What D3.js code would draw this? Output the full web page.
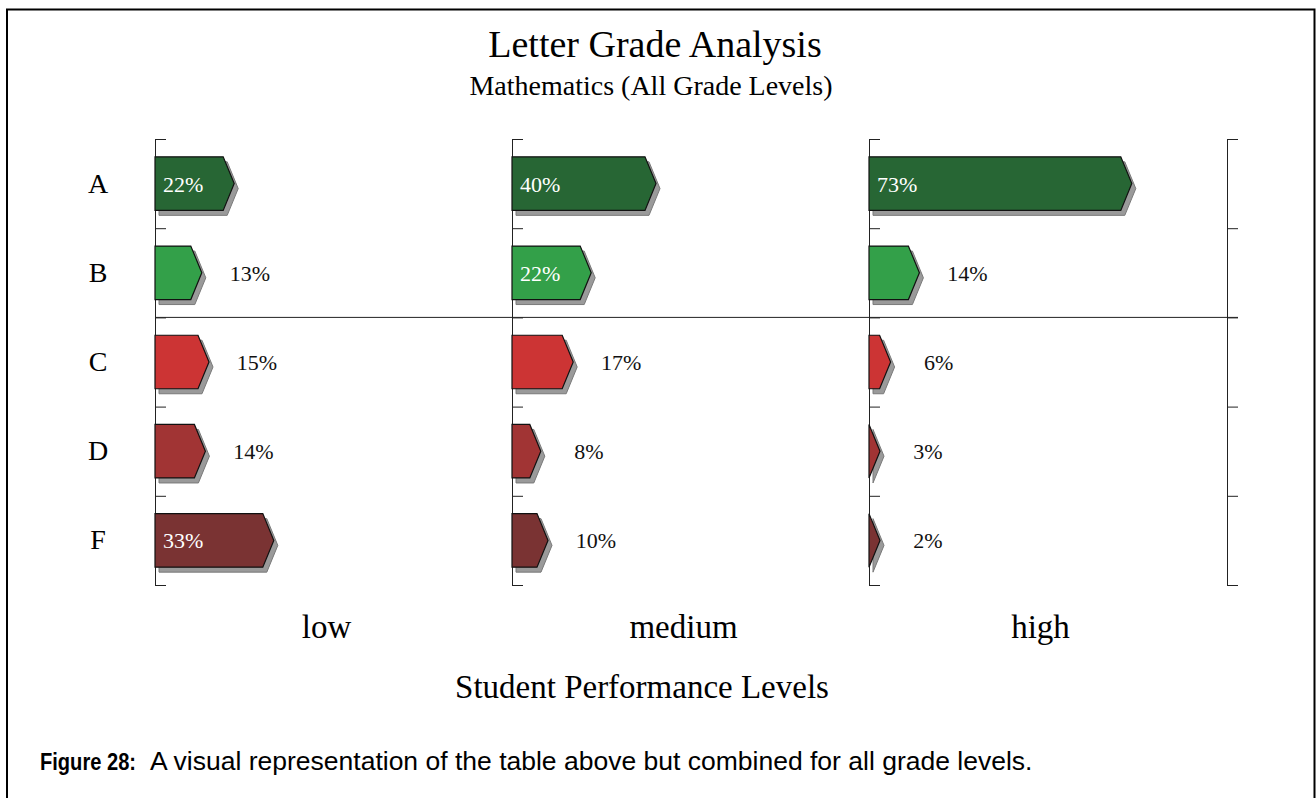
<!DOCTYPE html>
<html>
<head>
<meta charset="utf-8">
<script src="https://cdn.jsdelivr.net/npm/d3@7"></script>
<style>
  body { margin: 0; background: #fff; }
  text { font-family: "Liberation Serif", "Times New Roman", serif; }
  .caption { font-family: "Liberation Sans", Arial, sans-serif; }
</style>
</head>
<body>
<div class="canvas"></div>
<script>
// data
var levels = ["low", "medium", "high"];
var grades = ["A", "B", "C", "D", "F"];
var gradeColors = ["#276634", "#33a049", "#cc3434", "#a13434", "#7a3333"];
// percent of students per grade, one array per performance level
var lowValues = [22, 13, 15, 14, 33];
var mediumValues = [40, 22, 17, 8, 10];
var highValues = [73, 14, 6, 3, 2];

var seriesByLevel = [lowValues, mediumValues, highValues];

var svg = d3.select(".canvas")
				.append("svg")
				.attr("width", 1316)
				.attr("height", 798);

svg.append("rect").attr("width", 1316).attr("height", 798).attr("fill", "#fff");

// frame (open at the bottom)
svg.append("path")
	.attr("d", "M7,798 L7,9.5 L1314.5,9.5 L1314.5,798")
	.attr("fill", "none")
	.attr("stroke", "#000")
	.attr("stroke-width", 2);

var x0 = d3.scaleBand().domain(levels).range([155, 1226]);
var xv = d3.scaleLinear().domain([0, 100]).range([0, 360]);
var y = d3.scaleBand().domain(grades).range([139, 585]);
var yTicks = d3.scaleLinear().domain([0, grades.length]).range([139, 585]);

var barH = y.bandwidth() * 0.6;
var tip = 11;

function arrow(len) {
	var L = Math.max(len, tip);
	var b = L - tip;
	return "M0,0 L" + b + ",0 L" + L + "," + (barH / 2) + " L" + b + "," + barH + " L0," + barH + " Z";
}

// titles
svg.append("text").attr("x", 655).attr("y", 57).attr("text-anchor", "middle")
	.attr("font-size", 38).text("Letter Grade Analysis");
svg.append("text").attr("x", 651).attr("y", 95).attr("text-anchor", "middle")
	.attr("font-size", 28).text("Mathematics (All Grade Levels)");

// row labels
svg.selectAll(".rowlab").data(grades).enter().append("text")
	.attr("class", "rowlab")
	.attr("x", 98)
	.attr("y", function(d){ return y(d) + y.bandwidth() / 2 + 9; })
	.attr("text-anchor", "middle")
	.attr("font-size", 28)
	.text(function(d){ return d; });

// axes: one per panel plus one at the right edge
var axisPos = levels.map(function(l){ return x0(l); }).concat([x0.range()[1] + 1]);
axisPos.forEach(function(px){
	svg.append("g")
		.attr("transform", "translate(" + px + ",0)")
		.call(d3.axisRight(yTicks).tickValues(d3.range(grades.length + 1)).tickSize(11).tickSizeOuter(0).tickFormat(""))
		.call(function(g){ g.selectAll("path,line").attr("stroke", "#222"); });
});

// divider between passing and failing grades
svg.append("line")
	.attr("x1", x0("low")).attr("x2", x0.range()[1] + 12)
	.attr("y1", yTicks(2)).attr("y2", yTicks(2))
	.attr("stroke", "#222");

levels.forEach(function(level, li){
	var vals = seriesByLevel[li];
	var g = svg.append("g").attr("transform", "translate(" + x0(level) + ",0)");
	var rows = g.selectAll(".bar").data(grades.map(function(gr, i){ return {grade: gr, value: vals[i], color: gradeColors[i]}; }))
		.enter().append("g")
		.attr("class", "bar")
		.attr("transform", function(d){ return "translate(0," + (y(d.grade) + (y.bandwidth() - barH) / 2) + ")"; });

	rows.append("path")
		.attr("d", function(d){ return arrow(xv(d.value)); })
		.attr("transform", "translate(4,5)")
		.attr("fill", "#9a9a9a")
		.attr("stroke", "#7a7a7a");

	rows.append("path")
		.attr("d", function(d){ return arrow(xv(d.value)); })
		.attr("fill", function(d){ return d.color; })
		.attr("stroke", "#111")
		.attr("stroke-width", 1.2);

	rows.append("text")
		.attr("x", function(d){ return d.value >= 20 ? 8 : Math.max(xv(d.value), tip) + 48; })
		.attr("y", barH / 2 + 8)
		.attr("text-anchor", function(d){ return d.value >= 20 ? "start" : "middle"; })
		.attr("fill", function(d){ return d.value >= 20 ? "#fff" : "#111"; })
		.attr("font-size", 22)
		.text(function(d){ return d.value + "%"; });

	svg.append("text")
		.attr("x", x0(level) + x0.bandwidth() / 2 - 7)
		.attr("y", 638)
		.attr("text-anchor", "middle")
		.attr("font-size", 33)
		.text(level);
});

svg.append("text").attr("x", 642).attr("y", 698).attr("text-anchor", "middle")
	.attr("font-size", 33).text("Student Performance Levels");

var cap = svg.append("text").attr("class", "caption").attr("x", 40).attr("y", 770).attr("font-size", 26.5);
cap.append("tspan").attr("font-weight", "bold").attr("font-size", 24)
	.attr("textLength", 96).attr("lengthAdjust", "spacingAndGlyphs").text("Figure 28:");
cap.append("tspan").attr("x", 150).text("A visual representation of the table above but combined for all grade levels.");
</script>
</body>
</html>
